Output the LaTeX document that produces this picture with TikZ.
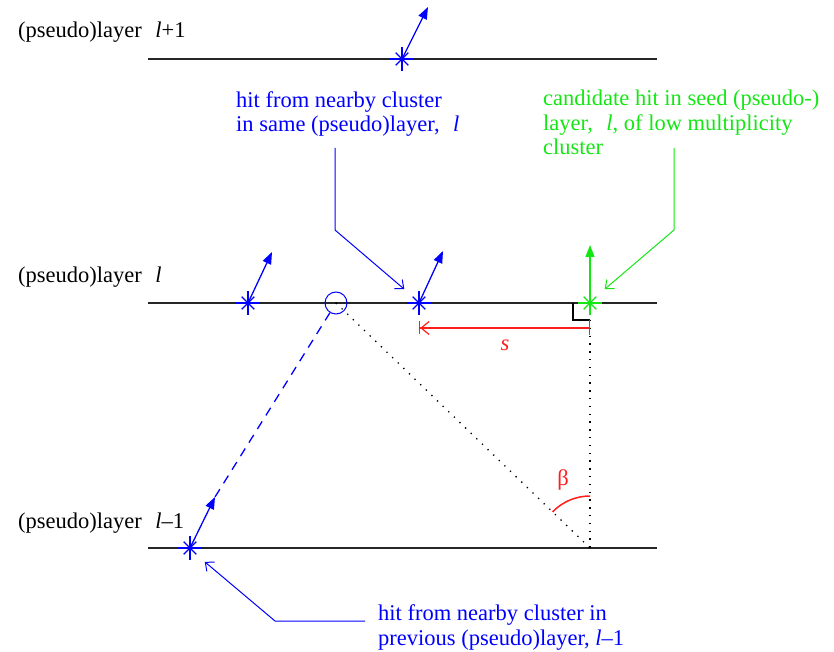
\documentclass[tikz,border=0pt]{standalone}
\usepackage{fontspec}
\setmainfont{Liberation Serif}
\usetikzlibrary{arrows.meta}

\definecolor{hitblue}{RGB}{0,0,255}
\definecolor{seedgreen}{RGB}{20,230,20}
\definecolor{measred}{RGB}{255,30,30}

\begin{document}
\begin{tikzpicture}[
			x=1pt, y=1pt,
			every node/.style={font=\fontsize{22.5}{24.5}\selectfont, inner sep=0pt},
			layer/.style={line width=1.4pt, draw=black!85},
			note/.style={anchor=base west, align=left},
			hit/.style={
				circle,
				minimum size=24pt,
				path picture={
					\foreach \a/\r in {0/12,90/12,45/9,135/9}
					\draw[#1, line width=1.3pt]
					([shift={(\a:\r pt)}]path picture bounding box.center) --
					([shift={(\a+180:\r pt)}]path picture bounding box.center);
				}
			},
			vec/.style={
				-{Triangle[length=12pt,width=9pt]},
				line width=1.3pt
			},
			leader/.style={
				-{Straight Barb[length=7pt,width=12pt]},
				line width=1pt,
				shorten >=8pt
			},
			dots/.style={dash pattern=on 1.3pt off 6.5pt, line width=1.3pt}
			]
			\useasboundingbox (0,0) rectangle (834,651);
			
			% layers
			\coordinate (Lup1) at (148,592);  \coordinate (Lup2) at (657,592);
			\coordinate (Lmid1) at (148,348); \coordinate (Lmid2) at (657,348);
			\coordinate (Llow1) at (148,103); \coordinate (Llow2) at (657,103);
			\draw[layer] (Lup1) -- (Lup2);
			\draw[layer] (Lmid1) -- (Lmid2);
			\draw[layer] (Llow1) -- (Llow2);
			\node[note] (labUp) at (18,613) {(pseudo)layer\hspace{0.6em}\textit{l}+1};
			\node[note] (labMid) at (18,368) {(pseudo)layer\hspace{0.6em}\textit{l}};
			\node[note] (labLow) at (18,123) {(pseudo)layer\hspace{0.6em}\textit{l}–1};
			
			% hits
			\node[hit=hitblue] (hitUp) at (402,592) {};
			\node[hit=hitblue] (hitB) at (248,348) {};
			\node[hit=hitblue] (hitC) at (419,348) {};
			\node[hit=seedgreen] (hitSeed) at (590,348) {};
			\node[hit=hitblue] (hitPrev) at (190,103) {};
			\node[circle, draw=hitblue, line width=1pt, minimum size=22pt] (proj) at (336,348) {};
			\fill (proj.center) circle (1pt);
			
			\coordinate (tipUp) at (428,644);
			\coordinate (tipB) at (272,399);
			\coordinate (tipC) at (443,400);
			\coordinate (tipSeed) at (590,406);
			\coordinate (tipPrev) at (215,154);
			\draw[vec, hitblue] (hitUp.center) -- (tipUp);
			\draw[vec, hitblue] (hitB.center) -- (tipB);
			\draw[vec, hitblue] (hitC.center) -- (tipC);
			\draw[vec, seedgreen] (hitSeed.center) -- (tipSeed);
			\draw[vec, hitblue] (hitPrev.center) -- (tipPrev);
			
			% geometry
			\coordinate (apex) at (590,103);
			\coordinate (corner1) at (573,348);
			\coordinate (corner2) at (573,331);
			\coordinate (corner3) at (590,331);
			\draw[hitblue, line width=1.3pt, dash pattern=on 9pt off 7pt] (proj) -- (tipPrev);
			\draw[dots] (proj.center) -- (apex);
			\draw[dots] (corner3) -- (apex);
			\draw[line width=1.2pt] (corner1) -- (corner2) -- (corner3);
			
			\coordinate (sR) at (590,323);
			\coordinate (sL) at (419,323);
			\draw[measred, line width=1.2pt, {Bar[width=15pt]}-{Straight Barb[length=8pt,width=13pt]Bar[width=13pt]}] (sR) -- (sL);
			\node[measred, font=\fontsize{22.5}{24.5}\selectfont\itshape] (sLab) at (505,306) {s};
			\draw[measred, line width=1.5pt] ([shift={(90:52)}]apex) arc[start angle=90, end angle=136, radius=52];
			\node[measred] (betaLab) at (563,171) {β};
			
			% notes
			\node[note, hitblue] (noteSame) at (236,519) {hit from nearby cluster\\in same (pseudo)layer,\hspace{0.6em}\textit{l}};
			\node[note, seedgreen] (noteSeed) at (543,496) {candidate hit in seed (pseudo-)\\layer,\hspace{0.6em}\textit{l}, of low multiplicity\\cluster};
			\node[note, hitblue] (notePrev) at (378,6) {hit from nearby cluster in\\previous (pseudo)layer, \textit{l}–1};
			
			\coordinate (ldSame1) at (335,503); \coordinate (ldSame2) at (335,421);
			\coordinate (ldSeed1) at (674,503); \coordinate (ldSeed2) at (674,421);
			\coordinate (ldPrev1) at (365,30);  \coordinate (ldPrev2) at (275,30);
			\draw[leader, hitblue] (ldSame1) -- (ldSame2) -- (hitC.north west);
			\draw[leader, seedgreen] (ldSeed1) -- (ldSeed2) -- (hitSeed.north east);
			\draw[leader, hitblue] (ldPrev1) -- (ldPrev2) -- (hitPrev.south east);
		\end{tikzpicture}
\end{document}
